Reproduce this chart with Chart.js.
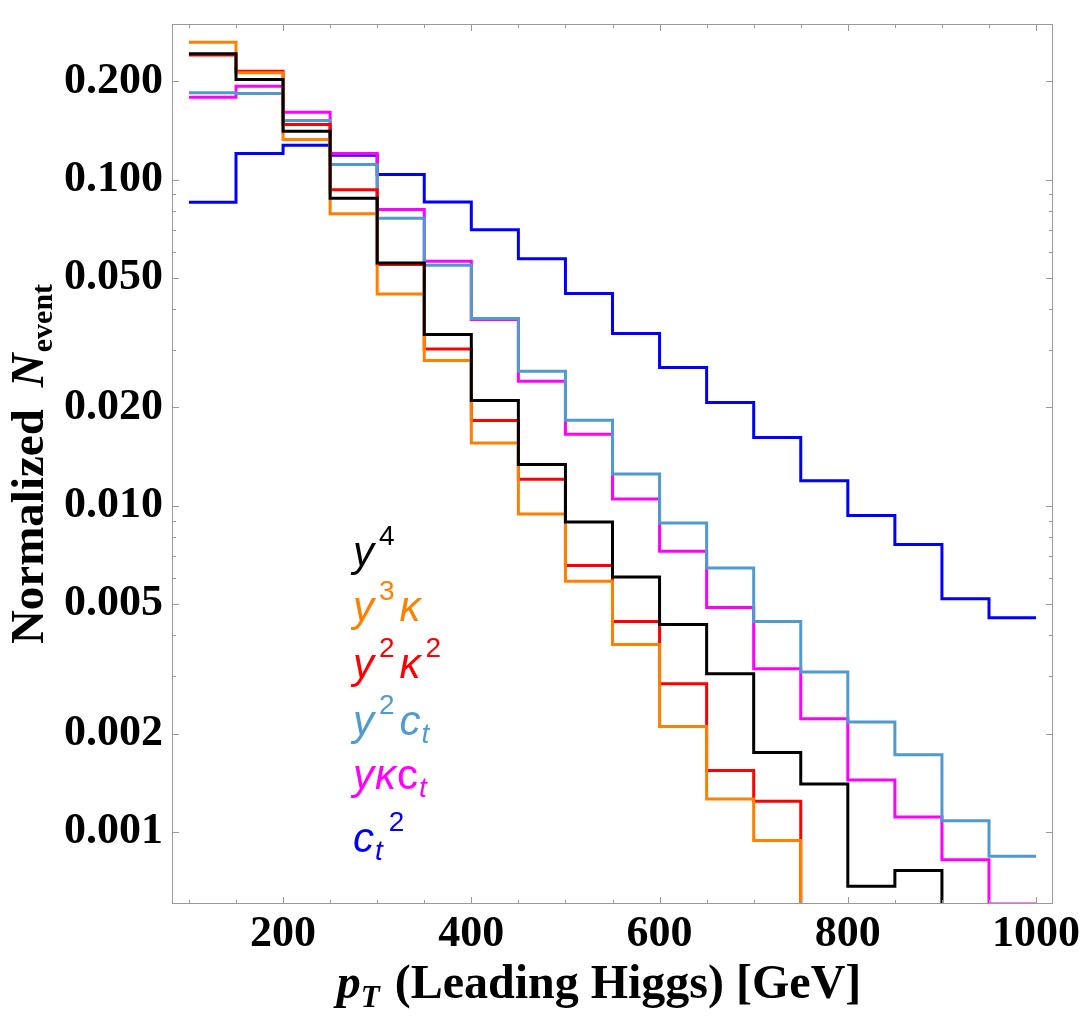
<!DOCTYPE html>
<html>
<head>
<meta charset="utf-8">
<script src="https://cdn.jsdelivr.net/npm/chart.js@4.4.1/dist/chart.umd.min.js"></script>
<style>
  html, body { margin: 0; padding: 0; background: #ffffff; }
  #wrap { width: 1084px; height: 1024px; }
</style>
</head>
<body>
<div id="wrap"><canvas id="c" width="1084" height="1024"></canvas></div>
<script>
// ---------------- data ----------------
const binEdges = [100, 150, 200, 250, 300, 350, 400, 450, 500, 550, 600, 650, 700, 750, 800, 850, 900, 950, 1000];

// values below the plotted range are given as small estimates (drawn off-plot)
const yFour = [0.243, 0.2026, 0.1406, 0.0876, 0.0555, 0.0335, 0.0210, 0.01336, 0.00891, 0.00604, 0.00432, 0.00305, 0.00175, 0.00140, 0.00068, 0.00076, 0.0003, 0.0003];
const yThreeKappa = [0.2638, 0.2125, 0.1327, 0.0786, 0.0446, 0.02785, 0.01557, 0.00943, 0.00586, 0.00375, 0.00210, 0.00126, 0.00094, 0.0003, 0.0003, 0.0003, 0.0003, 0.0003];
const yTwoKappaTwo = [0.241, 0.2149, 0.1475, 0.0930, 0.0549, 0.03025, 0.01823, 0.01205, 0.00655, 0.00441, 0.00284, 0.00154, 0.00124, 0.0003, 0.0003, 0.0003, 0.0003, 0.0003];
const yTwoCt = [0.1845, 0.1836, 0.1517, 0.1112, 0.0761, 0.0546, 0.03747, 0.02582, 0.01827, 0.01251, 0.00885, 0.00644, 0.00441, 0.00309, 0.00217, 0.00172, 0.00108, 0.00084];
const yKappaCt = [0.1788, 0.1933, 0.1609, 0.1202, 0.0809, 0.05616, 0.03721, 0.02405, 0.01654, 0.01048, 0.00724, 0.00487, 0.00316, 0.00222, 0.00144, 0.00111, 0.00082, 0.0006];
const ctTwo = [0.0852, 0.1202, 0.1274, 0.1187, 0.1036, 0.0854, 0.0702, 0.0572, 0.0447, 0.0337, 0.0265, 0.0207, 0.01617, 0.01193, 0.00932, 0.00760, 0.00518, 0.00453];

const xTickValues = [100, 150, 200, 250, 300, 350, 400, 450, 500, 550, 600, 650, 700, 750, 800, 850, 900, 950, 1000];
const xMajorTicks = [200, 400, 600, 800, 1000];
const xTickLabels = ['200', '400', '600', '800', '1000'];

const yMajorTicks = [0.001, 0.002, 0.005, 0.01, 0.02, 0.05, 0.1, 0.2];
const yTickLabels = ['0.001', '0.002', '0.005', '0.010', '0.020', '0.050', '0.100', '0.200'];
const yMinorTicks = [0.003, 0.004, 0.006, 0.007, 0.008, 0.009, 0.03, 0.04, 0.06, 0.07, 0.08, 0.09, 0.3];

const seriesNames = ['y^4', 'y^3 kappa', 'y^2 kappa^2', 'y^2 c_t', 'y kappa c_t', 'c_t^2'];

// ---------------- styling ----------------
const colors = ['#000000', '#ff8000', '#ff0000', '#4f9bd1', '#ff00ff', '#0000ff'];
const seriesValues = [yFour, yThreeKappa, yTwoKappaTwo, yTwoCt, yKappaCt, ctTwo];

function toSteps(vals) {
  const pts = vals.map((v, i) => ({ x: binEdges[i], y: v }));
  pts.push({ x: binEdges[binEdges.length - 1], y: vals[vals.length - 1] });
  return pts;
}

const datasets = seriesValues.map((vals, i) => ({
  label: seriesNames[i],
  data: toSteps(vals),
  borderColor: colors[i],
  backgroundColor: colors[i],
  borderWidth: 3,
  pointRadius: 0,
  fill: false,
  stepped: 'before',
  tension: 0
}));

const SERIF = '"Liberation Serif", "Times New Roman", serif';
const SANS = '"Liberation Sans", Arial, Helvetica, sans-serif';

// frame and inward tick marks on all four sides
const framePlugin = {
  id: 'frame',
  afterDatasetsDraw(chart) {
    const { ctx, chartArea: a, scales: { x, y } } = chart;
    ctx.save();
    ctx.strokeStyle = '#9a9a9a';
    ctx.lineWidth = 1;
    ctx.strokeRect(a.left + 0.5, a.top + 0.5, a.right - a.left - 1, a.bottom - a.top - 1);
    const seg = (x1, y1, x2, y2) => { ctx.beginPath(); ctx.moveTo(x1, y1); ctx.lineTo(x2, y2); ctx.stroke(); };
    xTickValues.forEach(v => {
      const px = Math.round(x.getPixelForValue(v)) + 0.5;
      const L = xMajorTicks.includes(v) ? 7 : 4;
      seg(px, a.bottom, px, a.bottom - L);
      seg(px, a.top, px, a.top + L);
    });
    yMajorTicks.concat(yMinorTicks).forEach(v => {
      const py = Math.round(y.getPixelForValue(v)) + 0.5;
      if (py < a.top || py > a.bottom) return;
      const L = yMajorTicks.includes(v) ? 7 : 4;
      seg(a.left, py, a.left + L, py);
      seg(a.right, py, a.right - L, py);
    });
    ctx.restore();
  }
};

// legend inside the plot and the axis titles
const legendLines = [
  [['y', 'i'], ['4', 'sup']],
  [['y', 'i'], ['3', 'sup'], ['κ', 'i']],
  [['y', 'i'], ['2', 'sup'], ['κ', 'i'], ['2', 'sup']],
  [['y', 'i'], ['2', 'sup'], ['c', 'i'], ['t', 'sub']],
  [['y', 'i'], ['κ', 'i'], ['c', 'r'], ['t', 'sub']],
  [['c', 'i'], ['t', 'sub'], ['2', 'sup']]
];
const legendBaselines = [566, 621, 678, 735, 789, 852];

const textPlugin = {
  id: 'texts',
  afterDraw(chart) {
    const ctx = chart.ctx;
    ctx.save();
    ctx.textBaseline = 'alphabetic';
    ctx.textAlign = 'left';
    const styles = {
      i: { font: `italic 42px ${SANS}`, dy: 0, gapAfter: 1 },
      r: { font: `42px ${SANS}`, dy: 0, gapAfter: 1 },
      sup: { font: `28px ${SANS}`, dy: -21, gapAfter: 5 },
      sub: { font: `italic 28px ${SANS}`, dy: 8, gapAfter: 2 }
    };
    legendLines.forEach((parts, li) => {
      let x = 353;
      const base = legendBaselines[li];
      ctx.fillStyle = colors[li];
      parts.forEach(([t, s], pi) => {
        const st = styles[s];
        if (s === 'sup' && pi > 0) x += 4;
        ctx.font = st.font;
        ctx.fillText(t, x, base + st.dy);
        x += ctx.measureText(t).width + st.gapAfter;
      });
    });

    // axis titles
    const drawParts = (parts, cx, baseY) => {
      let total = 0;
      parts.forEach(p => { ctx.font = p.font; total += ctx.measureText(p.t).width + (p.gap || 0); });
      let x = cx - total / 2;
      parts.forEach(p => {
        ctx.font = p.font;
        ctx.fillText(p.t, x, baseY + (p.dy || 0));
        x += ctx.measureText(p.t).width + (p.gap || 0);
      });
    };
    ctx.fillStyle = '#000';
    // x title
    drawParts([
      { t: 'p', font: `italic bold 48px ${SERIF}` },
      { t: 'T', font: `italic bold 31px ${SERIF}`, dy: 9, gap: 15 },
      { t: '(Leading Higgs) [GeV]', font: `bold 48px ${SERIF}` }
    ], 599, 998);
    // y title
    ctx.save();
    ctx.translate(43, 464);
    ctx.rotate(-Math.PI / 2);
    drawParts([
      { t: 'Normalized', font: `bold 47px ${SERIF}`, gap: 22 },
      { t: 'N', font: `italic bold 47px ${SERIF}`, gap: 1 },
      { t: 'event', font: `bold 30px ${SERIF}`, dy: 9 }
    ], 0, 0);
    ctx.restore();
    ctx.restore();
  }
};

new Chart(document.getElementById('c'), {
  type: 'line',
  data: { datasets },
  options: {
    responsive: false,
    animation: false,
    devicePixelRatio: 1,
    layout: { padding: { top: 24, right: 31, left: 0, bottom: 0 } },
    plugins: { legend: { display: false }, tooltip: { enabled: false }, title: { display: false } },
    scales: {
      x: {
        type: 'linear',
        min: 82,
        max: 1018,
        grid: { display: false, drawTicks: false },
        border: { display: false },
        afterBuildTicks: s => { s.ticks = xTickValues.map(v => ({ value: v })); },
        afterFit: s => { s.height = 120; s.paddingLeft = 0; s.paddingRight = 0; },
        ticks: {
          autoSkip: false,
          maxRotation: 0,
          padding: 4,
          color: '#000',
          font: { family: SERIF, size: 44, weight: 'bold' },
          callback: v => { const k = xMajorTicks.indexOf(v); return k >= 0 ? xTickLabels[k] : ''; }
        }
      },
      y: {
        type: 'logarithmic',
        min: 0.0006,
        max: 0.3,
        grid: { display: false, drawTicks: false },
        border: { display: false },
        afterBuildTicks: s => { s.ticks = yMajorTicks.concat(yMinorTicks).sort((a, b) => a - b).map(v => ({ value: v })); },
        afterFit: s => { s.width = 172; s.paddingTop = 0; s.paddingBottom = 0; },
        ticks: {
          autoSkip: false,
          padding: 9,
          color: '#000',
          font: { family: SERIF, size: 44, weight: 'bold' },
          callback: v => { const k = yMajorTicks.indexOf(v); return k >= 0 ? yTickLabels[k] : ''; }
        }
      }
    }
  },
  plugins: [framePlugin, textPlugin]
});
</script>
</body>
</html>
